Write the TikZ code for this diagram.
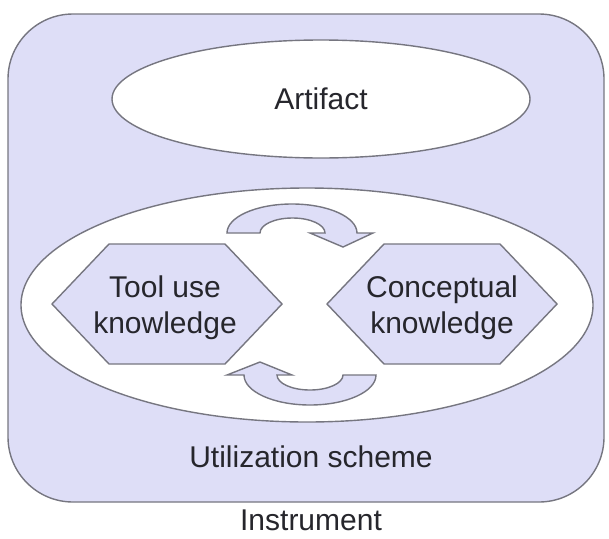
\documentclass[tikz,border=0pt]{standalone}
\usepackage{fontspec}
\setmainfont{Liberation Sans}
\usetikzlibrary{shapes.geometric,positioning}

\definecolor{lavender}{RGB}{222,222,247}
\definecolor{edgegrey}{RGB}{118,118,128}
\definecolor{inkgrey}{RGB}{38,38,44}

\begin{document}
\begin{tikzpicture}[x=1pt, y=-1pt,
                    every node/.style={font=\fontsize{30}{36}\selectfont, text=inkgrey},
                    outline/.style={draw=edgegrey, line width=1.4pt},
                    zone/.style={outline, fill=white, ellipse, inner sep=0pt},
                    hexpath/.style={outline, fill=lavender, line join=miter},
                    cyclearrow/.style={outline, fill=lavender, line join=miter}]
\useasboundingbox (0,0) rectangle (609,538);

% outer frame and the two zones inside it
\node[outline, fill=lavender, rounded corners=65pt,
      minimum width=596pt, minimum height=488pt] (frame) at (306,258) {};
\node[zone, minimum width=418pt, minimum height=118pt] (artifact) at (321,99) {Artifact};
\node[zone, minimum width=572pt, minimum height=234pt] (scheme) at (307,305) {};

% the two kinds of knowledge
\coordinate (toolc) at (167,304);
\coordinate (concc) at (442,304);
\draw[hexpath] ([xshift=-115pt]toolc) -- ++(57,-60) -- ++(116,0) -- ++(57,60)
               -- ++(-57,60) -- ++(-116,0) -- cycle;
\draw[hexpath] ([xshift=-115pt]concc) -- ++(57,-60) -- ++(116,0) -- ++(57,60)
               -- ++(-57,60) -- ++(-116,0) -- cycle;
\node[align=center] (tool) at (165,308) {Tool use\\knowledge};
\node[align=center] (conc) at (442,308) {Conceptual\\knowledge};

% curved arrows between them
\draw[cyclearrow] (227,233) arc[start angle=180, end angle=360, x radius=65, y radius=29]
                  -- (373,233) -- (343,247) -- (310,233) -- (325,233)
                  arc[start angle=0, end angle=-180, x radius=32.5, y radius=15] -- cycle;
\draw[cyclearrow] (376,375) arc[start angle=0, end angle=180, x radius=66, y radius=30]
                  -- (227,375) -- (260,362) -- (292,375) -- (277,375)
                  arc[start angle=180, end angle=0, x radius=33, y radius=15] -- cycle;

\node (schemelabel) at (311,457) {Utilization scheme};
\node[inner sep=1pt] (instrument) at (311,520) {Instrument};
\end{tikzpicture}
\end{document}
